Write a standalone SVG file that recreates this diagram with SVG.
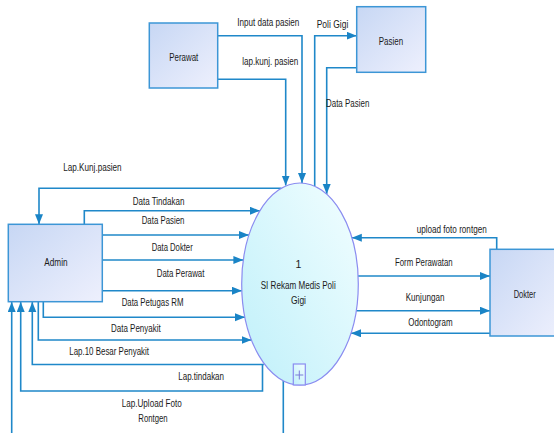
<svg xmlns="http://www.w3.org/2000/svg" width="554" height="433" viewBox="0 0 554 433">
  <style>
    .ent { stroke: #3c96d6; stroke-width: 1.5; fill: url(#entFill); }
    .proc { stroke: #8a8cf0; stroke-width: 1.2; fill: url(#procFill); }
    .flow { fill: none; stroke: #1f88c9; stroke-width: 1.6; }
    .arr { marker-end: url(#head); }
    text { font-family: "Liberation Sans Narrow", "Liberation Sans", Arial, sans-serif; font-size: 10.5px; fill: #1a1a1a; }
  </style>
  <defs>
    <linearGradient id="entFill" x1="0" y1="0" x2="1" y2="1">
      <stop offset="0" stop-color="#c7d7f4"/>
      <stop offset="1" stop-color="#eef0fd"/>
    </linearGradient>
    <linearGradient id="procFill" x1="0" y1="1" x2="1" y2="0">
      <stop offset="0" stop-color="#bff0fa"/>
      <stop offset="1" stop-color="#f2feff"/>
    </linearGradient>
    <marker id="head" markerUnits="userSpaceOnUse" markerWidth="11" markerHeight="9" refX="10" refY="4" orient="auto">
      <path d="M0,0 L10,4 L0,8 z" fill="#1a84c6"/>
    </marker>
  </defs>

  <!-- data flows -->
  <g id="connectors">
    <path class="flow arr" d="M217.7,35.7 H302 V183"/>
    <path class="flow arr" d="M217.7,79.3 H285.7 V185.5"/>
    <path class="flow arr" d="M314.7,186 V35.7 H356.7"/>
    <path class="flow arr" d="M356.7,67.7 H326.7 V194"/>
    <path class="flow arr" d="M281.4,188.3 H39 V224.3"/>
    <path class="flow arr" d="M84.3,224.3 V210.7 H259.9"/>
    <path class="flow arr" d="M102.3,235 H249"/>
    <path class="flow arr" d="M102.3,260 H243.4"/>
    <path class="flow arr" d="M102.3,290.7 H241.9"/>
    <path class="flow arr" d="M43.3,301.7 V317.3 H245"/>
    <path class="flow arr" d="M38.3,301.7 V340 H251.5"/>
    <path class="flow arr" d="M263.8,364.5 H32.3 V302"/>
    <path class="flow arr" d="M262.5,364.5 V391 H20.7 V302"/>
    <path class="flow arr" d="M283.3,381 V445 H11.7 V302"/>
    <path class="flow arr" d="M496.7,249.3 V237.7 H351.8"/>
    <path class="flow arr" d="M358,276 H490"/>
    <path class="flow arr" d="M356.2,310.7 H490"/>
    <path class="flow arr" d="M490,333.3 H351"/>
  </g>

  <!-- flow labels -->
  <g id="labels">
    <text x="237.3" y="26" textLength="62" lengthAdjust="spacingAndGlyphs">Input data pasien</text>
    <text x="242.3" y="64.5" textLength="56" lengthAdjust="spacingAndGlyphs">lap.kunj. pasien</text>
    <text x="316.7" y="28" textLength="31.6" lengthAdjust="spacingAndGlyphs">Poli Gigi</text>
    <text x="326" y="106.5" textLength="43.3" lengthAdjust="spacingAndGlyphs">Data Pasien</text>
    <text x="63.3" y="171" textLength="58.3" lengthAdjust="spacingAndGlyphs">Lap.Kunj.pasien</text>
    <text x="132.7" y="205.4" textLength="51.7" lengthAdjust="spacingAndGlyphs">Data Tindakan</text>
    <text x="141.7" y="224.4" textLength="42.7" lengthAdjust="spacingAndGlyphs">Data Pasien</text>
    <text x="151.7" y="251.4" textLength="41" lengthAdjust="spacingAndGlyphs">Data Dokter</text>
    <text x="156.7" y="277" textLength="47.7" lengthAdjust="spacingAndGlyphs">Data Perawat</text>
    <text x="121.7" y="306.4" textLength="61.7" lengthAdjust="spacingAndGlyphs">Data Petugas RM</text>
    <text x="111" y="332" textLength="49.7" lengthAdjust="spacingAndGlyphs">Data Penyakit</text>
    <text x="69.3" y="355.4" textLength="79.7" lengthAdjust="spacingAndGlyphs">Lap.10 Besar Penyakit</text>
    <text x="178.3" y="379.7" textLength="45.7" lengthAdjust="spacingAndGlyphs">Lap.tindakan</text>
    <text x="121.7" y="406.7" textLength="60" lengthAdjust="spacingAndGlyphs">Lap.Upload Foto</text>
    <text x="138.3" y="421.7" textLength="29.3" lengthAdjust="spacingAndGlyphs">Rontgen</text>
    <text x="416.7" y="232.7" textLength="70" lengthAdjust="spacingAndGlyphs">upload foto rontgen</text>
    <text x="395" y="266.4" textLength="57.7" lengthAdjust="spacingAndGlyphs">Form Perawatan</text>
    <text x="405.7" y="301" textLength="38.7" lengthAdjust="spacingAndGlyphs">Kunjungan</text>
    <text x="408.3" y="326" textLength="44.3" lengthAdjust="spacingAndGlyphs">Odontogram</text>
  </g>

  <!-- external entities -->
  <g id="perawat">
    <rect class="ent" x="149.3" y="23" width="68.4" height="65"/>
    <text x="169.3" y="60.5" textLength="29" lengthAdjust="spacingAndGlyphs">Perawat</text>
  </g>
  <g id="pasien">
    <rect class="ent" x="356.7" y="6.7" width="69" height="65.6"/>
    <text x="378.8" y="44.5" textLength="24.3" lengthAdjust="spacingAndGlyphs">Pasien</text>
  </g>
  <g id="admin">
    <rect class="ent" x="8.3" y="224.3" width="94" height="77.4"/>
    <text x="44.3" y="266.4" textLength="23.3" lengthAdjust="spacingAndGlyphs">Admin</text>
  </g>
  <g id="dokter">
    <rect class="ent" x="490" y="249.3" width="72" height="86.7"/>
    <text x="513.7" y="297.7" textLength="22" lengthAdjust="spacingAndGlyphs">Dokter</text>
  </g>

  <!-- process 1 with its expand box -->
  <g id="process-1">
    <ellipse class="proc" cx="300" cy="284" rx="58.3" ry="101"/>
    <text x="298.3" y="268" text-anchor="middle">1</text>
    <text x="260.7" y="289.4" textLength="75" lengthAdjust="spacingAndGlyphs">SI Rekam Medis Poli</text>
    <text x="291" y="304.4" textLength="15" lengthAdjust="spacingAndGlyphs">Gigi</text>
    <rect class="proc" x="293.3" y="364" width="12" height="21"/>
    <path d="M299.3,370.5 V379.5 M295.3,375 H303.3" stroke="#7a7ad8" stroke-width="1" fill="none"/>
  </g>
</svg>
